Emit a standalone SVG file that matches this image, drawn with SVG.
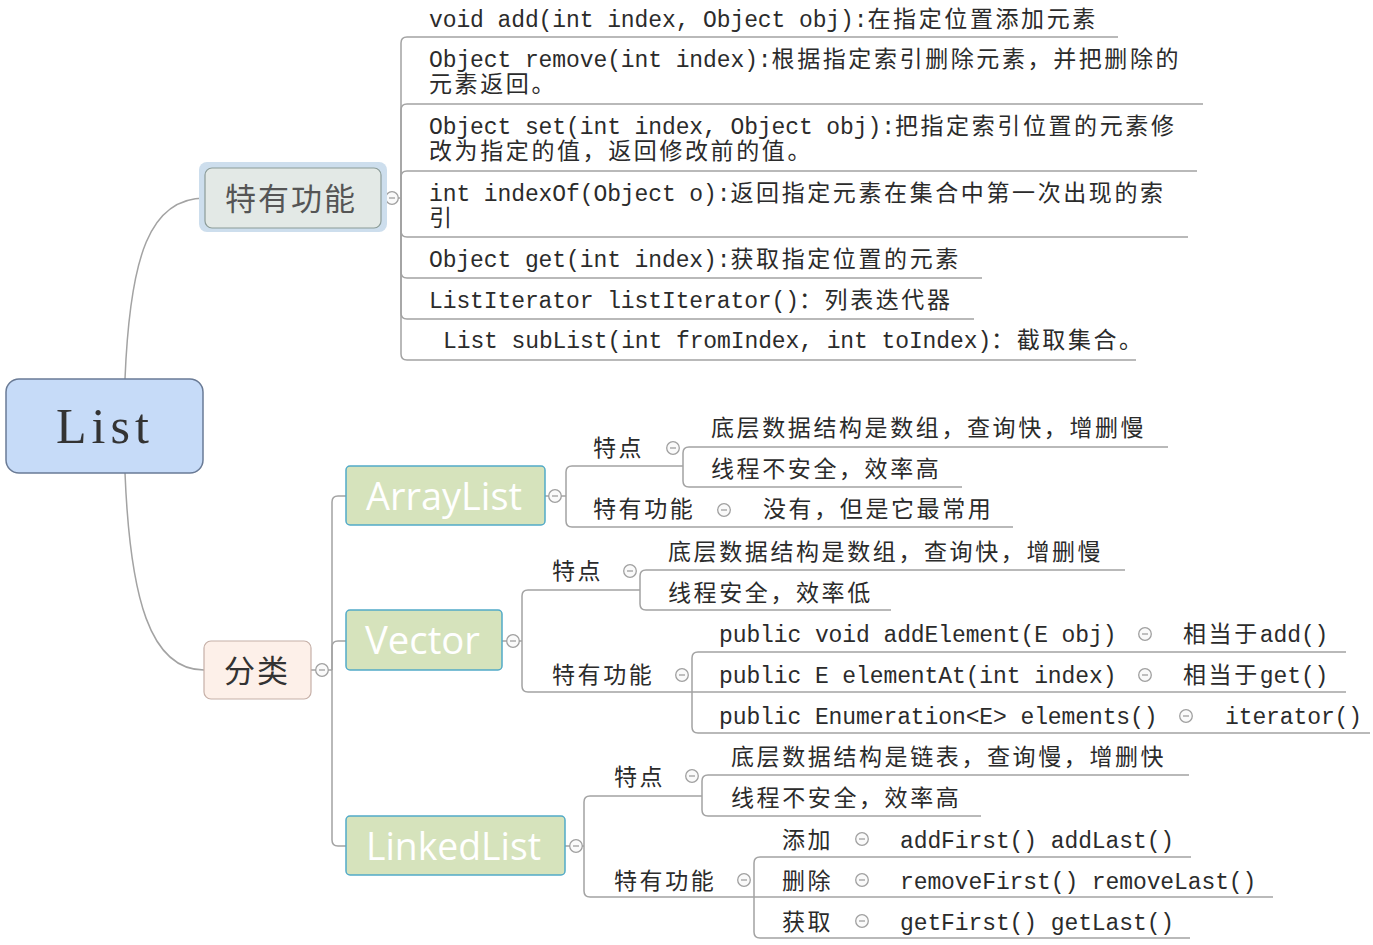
<svg xmlns="http://www.w3.org/2000/svg" width="1373" height="945" viewBox="0 0 1373 945">
<defs>
<style>
.ln{fill:none;stroke:#a3a3a3;stroke-width:1.5}
.cb{fill:#fafafa;stroke:#a0a0a0;stroke-width:1.3}
.cbm{stroke:#a0a0a0;stroke-width:1.3}
.t{font-family:"Liberation Mono","Noto Sans CJK SC",monospace;font-size:23px;fill:#2b2b2b;letter-spacing:-0.1px}
.c{letter-spacing:2.6px}
.cj{font-family:"Noto Sans CJK SC",sans-serif;font-size:23px;fill:#2b2b2b;letter-spacing:2.6px}
.big{font-family:"Noto Sans CJK SC",sans-serif;font-size:31px;letter-spacing:2px}
.grn{fill:#d6e3bc;stroke:#52aac8;stroke-width:1.5}
.gt{font-family:"Open Sans","Noto Sans",sans-serif;font-size:38px;fill:#ffffff}
</style>
<symbol id="col" viewBox="-7 -7 14 14" overflow="visible">
<circle cx="0" cy="0" r="6.3" class="cb"/>
<line x1="-3" y1="0" x2="3" y2="0" class="cbm"/>
</symbol>
</defs>
<rect width="1373" height="945" fill="#ffffff"/>

<g id="connectors">
<path class="ln" d="M125,379 C130,255 150,198 205,198"/>
<path class="ln" d="M125,473 C130,598 150,670 204,670"/>
<path class="ln" d="M381,198 H401"/>
<path class="ln" d="M401,198 V43 Q401,37 407,37 H1118"/>
<path class="ln" d="M401,198 V110 Q401,104 407,104 H1203"/>
<path class="ln" d="M401,198 V177 Q401,171 407,171 H1197"/>
<path class="ln" d="M401,198 V231 Q401,237 407,237 H1188"/>
<path class="ln" d="M401,198 V272 Q401,278 407,278 H982"/>
<path class="ln" d="M401,198 V313 Q401,319 407,319 H974"/>
<path class="ln" d="M401,198 V354 Q401,360 407,360 H1136"/>
<path class="ln" d="M311,670 H332"/>
<path class="ln" d="M332,670 V502 Q332,496 338,496 H346"/>
<path class="ln" d="M332,670 V647 Q332,641 338,641 H346"/>
<path class="ln" d="M332,670 V840 Q332,846 338,846 H346"/>
<path class="ln" d="M545,496 H566"/>
<path class="ln" d="M566,496 V472 Q566,466 572,466 H683"/>
<path class="ln" d="M566,496 V521 Q566,527 572,527 H1013"/>
<path class="ln" d="M683,466 V453 Q683,447 689,447 H1168"/>
<path class="ln" d="M683,466 V481 Q683,487 689,487 H962"/>
<path class="ln" d="M502,641 H522"/>
<path class="ln" d="M522,641 V596 Q522,590 528,590 H640"/>
<path class="ln" d="M522,641 V686 Q522,692 528,692 H692"/>
<path class="ln" d="M640,590 V576 Q640,570 646,570 H1125"/>
<path class="ln" d="M640,590 V604 Q640,610 646,610 H891"/>
<path class="ln" d="M692,692 V658 Q692,652 698,652 H1346"/>
<path class="ln" d="M692,692 H1346"/>
<path class="ln" d="M692,692 V727 Q692,733 698,733 H1370"/>
<path class="ln" d="M565,846 H584"/>
<path class="ln" d="M584,846 V802 Q584,796 590,796 H702"/>
<path class="ln" d="M584,846 V891 Q584,897 590,897 H754"/>
<path class="ln" d="M702,796 V781 Q702,775 708,775 H1189"/>
<path class="ln" d="M702,796 V810 Q702,816 708,816 H981"/>
<path class="ln" d="M754,897 V863 Q754,857 760,857 H1191"/>
<path class="ln" d="M754,897 H1273"/>
<path class="ln" d="M754,897 V932 Q754,938 760,938 H1190"/>
</g>

<g id="collapse-buttons">
<use href="#col" x="385" y="191" width="14" height="14"/>
<use href="#col" x="315" y="663" width="14" height="14"/>
<use href="#col" x="548" y="489" width="14" height="14"/>
<use href="#col" x="666" y="441" width="14" height="14"/>
<use href="#col" x="717" y="503" width="14" height="14"/>
<use href="#col" x="506" y="634" width="14" height="14"/>
<use href="#col" x="623" y="564" width="14" height="14"/>
<use href="#col" x="675" y="668" width="14" height="14"/>
<use href="#col" x="1138" y="627" width="14" height="14"/>
<use href="#col" x="1138" y="668" width="14" height="14"/>
<use href="#col" x="1179" y="709" width="14" height="14"/>
<use href="#col" x="569" y="839" width="14" height="14"/>
<use href="#col" x="685" y="769" width="14" height="14"/>
<use href="#col" x="737" y="873" width="14" height="14"/>
<use href="#col" x="855" y="832" width="14" height="14"/>
<use href="#col" x="855" y="873" width="14" height="14"/>
<use href="#col" x="855" y="914" width="14" height="14"/>
</g>

<g id="root">
<rect x="6" y="379" width="197" height="94" rx="13" fill="#c6dbf8" stroke="#6a7b96" stroke-width="1.5"/>
<text x="56" y="443" font-family="Liberation Serif,serif" font-size="50" letter-spacing="5" fill="#333">List</text>
</g>

<g id="features">
<rect x="199" y="162" width="188" height="70" rx="8" fill="#cddeed"/>
<rect x="205" y="168" width="176" height="60" rx="7" fill="#e3e9e6" stroke="#8c9c98" stroke-width="1.2"/>
<text class="big" x="225" y="210" fill="#555">特有功能</text>
</g>

<g id="f1"><text class="t" x="429" y="27">void add(int index, Object obj):<tspan class="c">在指定位置添加元素</tspan></text></g>
<g id="f2"><text class="t" x="429" y="67">Object remove(int index):<tspan class="c">根据指定索引删除元素，并把删除的</tspan><tspan class="c" x="429" dy="25">元素返回。</tspan></text></g>
<g id="f3"><text class="t" x="429" y="134">Object set(int index, Object obj):<tspan class="c">把指定索引位置的元素修</tspan><tspan class="c" x="429" dy="25">改为指定的值，返回修改前的值。</tspan></text></g>
<g id="f4"><text class="t" x="429" y="201">int indexOf(Object o):<tspan class="c">返回指定元素在集合中第一次出现的索</tspan><tspan class="c" x="429" dy="25">引</tspan></text></g>
<g id="f5"><text class="t" x="429" y="267">Object get(int index):<tspan class="c">获取指定位置的元素</tspan></text></g>
<g id="f6"><text class="t" x="429" y="308">ListIterator listIterator()<tspan class="c">：列表迭代器</tspan></text></g>
<g id="f7"><text class="t" x="443" y="348">List subList(int fromIndex, int toIndex)<tspan class="c">：截取集合。</tspan></text></g>

<g id="category">
<rect x="204" y="641" width="107" height="58" rx="7" fill="#fdf0e9" stroke="#c6b0a8" stroke-width="1.2"/>
<text class="big" x="224" y="682" fill="#333">分类</text>
</g>

<g id="arraylist">
<rect class="grn" x="346" y="466" width="199" height="59" rx="4"/>
<text class="gt" x="366" y="510" textLength="156" lengthAdjust="spacingAndGlyphs">ArrayList</text>
</g>
<g id="al-trait"><text class="cj" x="593" y="456">特点</text></g>
<g id="al-trait-1"><text class="cj" x="711" y="436">底层数据结构是数组，查询快，增删慢</text></g>
<g id="al-trait-2"><text class="cj" x="711" y="477">线程不安全，效率高</text></g>
<g id="al-func"><text class="cj" x="593" y="517">特有功能</text></g>
<g id="al-func-1"><text class="cj" x="763" y="517">没有，但是它最常用</text></g>

<g id="vector">
<rect class="grn" x="346" y="610" width="156" height="60" rx="4"/>
<text class="gt" x="365" y="654" textLength="115" lengthAdjust="spacingAndGlyphs">Vector</text>
</g>
<g id="v-trait"><text class="cj" x="552" y="579">特点</text></g>
<g id="v-trait-1"><text class="cj" x="668" y="560">底层数据结构是数组，查询快，增删慢</text></g>
<g id="v-trait-2"><text class="cj" x="668" y="601">线程安全，效率低</text></g>
<g id="v-func"><text class="cj" x="552" y="683">特有功能</text></g>
<g id="v-func-1"><text class="t" x="719" y="642">public void addElement(E obj)</text></g>
<g id="v-func-1a"><text class="t" x="1183" y="642"><tspan class="c">相当于</tspan>add()</text></g>
<g id="v-func-2"><text class="t" x="719" y="683">public E elementAt(int index)</text></g>
<g id="v-func-2a"><text class="t" x="1183" y="683"><tspan class="c">相当于</tspan>get()</text></g>
<g id="v-func-3"><text class="t" x="719" y="724">public Enumeration&lt;E&gt; elements()</text></g>
<g id="v-func-3a"><text class="t" x="1225" y="724">iterator()</text></g>

<g id="linkedlist">
<rect class="grn" x="346" y="816" width="219" height="59" rx="4"/>
<text class="gt" x="366" y="860" textLength="175" lengthAdjust="spacingAndGlyphs">LinkedList</text>
</g>
<g id="ll-trait"><text class="cj" x="614" y="785">特点</text></g>
<g id="ll-trait-1"><text class="cj" x="731" y="765">底层数据结构是链表，查询慢，增删快</text></g>
<g id="ll-trait-2"><text class="cj" x="731" y="806">线程不安全，效率高</text></g>
<g id="ll-func"><text class="cj" x="614" y="889">特有功能</text></g>
<g id="ll-add"><text class="cj" x="782" y="848">添加</text></g>
<g id="ll-add-1"><text class="t" x="900" y="848">addFirst() addLast()</text></g>
<g id="ll-remove"><text class="cj" x="782" y="889">删除</text></g>
<g id="ll-remove-1"><text class="t" x="900" y="889">removeFirst() removeLast()</text></g>
<g id="ll-get"><text class="cj" x="782" y="930">获取</text></g>
<g id="ll-get-1"><text class="t" x="900" y="930">getFirst() getLast()</text></g>
</svg>
